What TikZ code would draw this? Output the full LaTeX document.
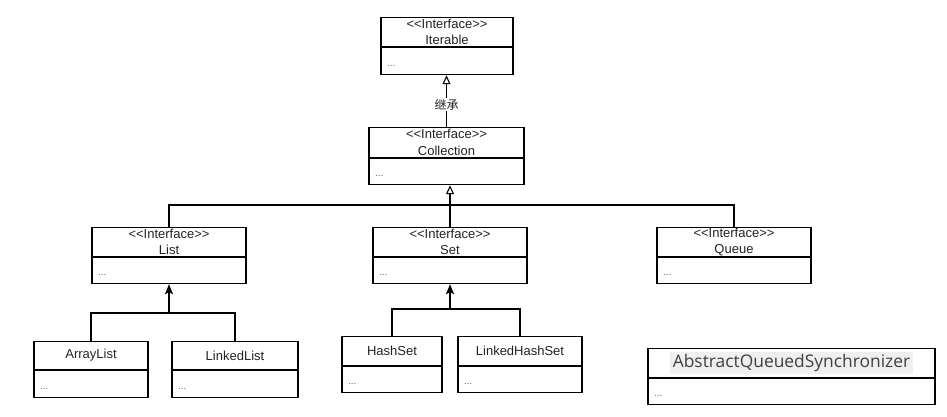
\documentclass[tikz,border=0pt]{standalone}
\usepackage{fontspec}
\setmainfont{Liberation Sans}
\newfontfamily\aqsfont{Open Sans}
\newfontfamily\cjk{Noto Sans CJK SC}
\usetikzlibrary{arrows.meta}
\definecolor{txt}{HTML}{222222}
\definecolor{dots}{HTML}{666666}
\definecolor{hl}{HTML}{EFEFEF}
\newcommand\intf{<\kern0pt<Interface>\kern0pt>}

\begin{document}
\begin{tikzpicture}[x=1pt,y=-1pt,line width=1.1pt,
    head/.style={draw,anchor=north,inner sep=0pt,align=center,text=txt,
        font=\fontsize{13}{16.5}\selectfont},
    body/.style={draw,anchor=north,inner sep=0pt,text height=18pt,text depth=8pt,
        text=dots,font=\fontsize{10}{12}\selectfont},
    gen/.style={-{Triangle[open,length=9pt,width=8pt]}},
    real/.style={-{Stealth[length=10pt,width=8pt,inset=2pt]}}]
    \useasboundingbox (0,0) rectangle (947,416);
    % classes: name/x/y/width/head height/body height/text
    \foreach \nm/\x/\y/\w/\hh/\bh/\lbl in {Iterable/447/17/132/29/27/\intf\\Iterable,
        Collection/446.5/127/155/30/26/\intf\\Collection,
        List/169/227/154/29/26/\intf\\List,
        Set/450/227/154/29/26/\intf\\Set,
        Queue/734/227/154/29/26/\intf\\Queue,
        ArrayList/91/341/114/28/27/ArrayList,
        LinkedList/235/341/126/28/27/LinkedList,
        HashSet/392/336/100/29/26/HashSet,
        LinkedHashSet/520/336/124/29/26/LinkedHashSet}{
        \node[head,minimum width=\w pt,minimum height=\hh pt] (\nm) at (\x,\y) {\lbl};
        \node[body,minimum width=\w pt,minimum height=\bh pt] (\nm-b) at (\nm.south) {\hbox to \w pt{\hskip6pt...\hfil}};
    }
    \node[head,minimum width=287pt,minimum height=29pt,text=black!75] (AQS) at (791.5,348)
        {\aqsfont\fontsize{17.4}{20}\selectfont\setlength\fboxsep{2.6pt}\colorbox{hl}{AbstractQueuedSynchronizer}};
    \node[body,minimum width=287pt,minimum height=26pt] (AQS-b) at (AQS.south) {\hbox to 287pt{\hskip6pt...\hfil}};

    % inheritance
    \draw[gen] (Collection.north) -- node[pos=0.43,fill=white,inner sep=1pt,text=txt,
        font=\cjk\fontsize{12}{12}\selectfont] (jc) {继承} (Collection.north |- Iterable-b.south);
    \coordinate (bus) at (450,205);
    \draw (List.north) |- (bus) -| (Queue.north);
    \draw[gen] (Set.north) -- (Set.north |- Collection-b.south);

    % implementations
    \coordinate (lj) at (169,313);
    \draw (ArrayList.north) |- (lj) -| (LinkedList.north);
    \draw[real] (lj) -- (List-b.south);
    \coordinate (sj) at (450,309);
    \draw (HashSet.north) |- (sj) -| (LinkedHashSet.north);
    \draw[real] (sj) -- (Set-b.south);
\end{tikzpicture}
\end{document}
